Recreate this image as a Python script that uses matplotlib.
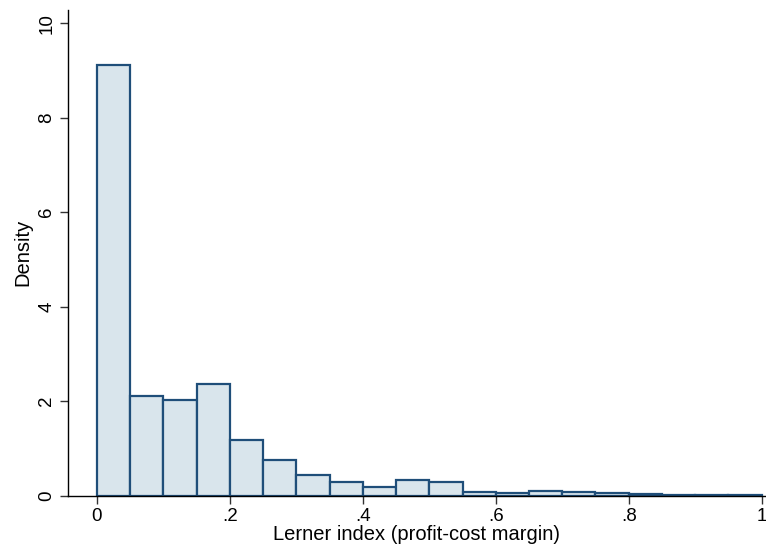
import numpy as np
import matplotlib
matplotlib.use('Agg')
import matplotlib.pyplot as plt

# 히스토그램 데이터 (bin 폭 0.05, 0~1)
bin_edges = [round(i * 0.05, 2) for i in range(21)]
density = [9.11, 2.12, 2.03, 2.37, 1.18, 0.76, 0.44, 0.29, 0.19, 0.34,
           0.30, 0.085, 0.065, 0.105, 0.085, 0.055, 0.04, 0.025, 0.02, 0.02]
x_ticks = [0, 0.2, 0.4, 0.6, 0.8, 1.0]
x_tick_labels = ['0', '.2', '.4', '.6', '.8', '1']
y_ticks = [0, 2, 4, 6, 8, 10]

plt.rcParams['font.family'] = ['Liberation Sans', 'DejaVu Sans']

fig = plt.figure(figsize=(7.66, 5.56), dpi=100)
ax = fig.add_axes([67.7 / 766, 1 - 495.7 / 556, (765 - 67.7) / 766, (495.7 - 10) / 556])

lefts = np.array(bin_edges[:-1])
widths = np.diff(bin_edges)
ax.bar(lefts, density, width=widths, align='edge',
       color='#d9e5ec', edgecolor='#1f4e79', linewidth=1.6)

ax.set_xlim(-0.044, 1.005)
ax.set_ylim(0, 10.28)

ax.set_xticks(x_ticks)
ax.set_xticklabels(x_tick_labels)
ax.set_yticks(y_ticks)
ax.set_yticklabels([str(v) for v in y_ticks], rotation=90, va='center')

ax.tick_params(axis='both', labelsize=13.5, length=6, width=1, color='#333333', pad=3)
ax.spines['top'].set_visible(False)
ax.spines['right'].set_visible(False)
for s in ['left', 'bottom']:
    ax.spines[s].set_color('black')
    ax.spines[s].set_linewidth(1.0)

ax.set_xlabel('Lerner index (profit-cost margin)', fontsize=14.5, labelpad=0)
ax.set_ylabel('Density', fontsize=14.5, labelpad=4)

fig.savefig('out.png', dpi=100)
